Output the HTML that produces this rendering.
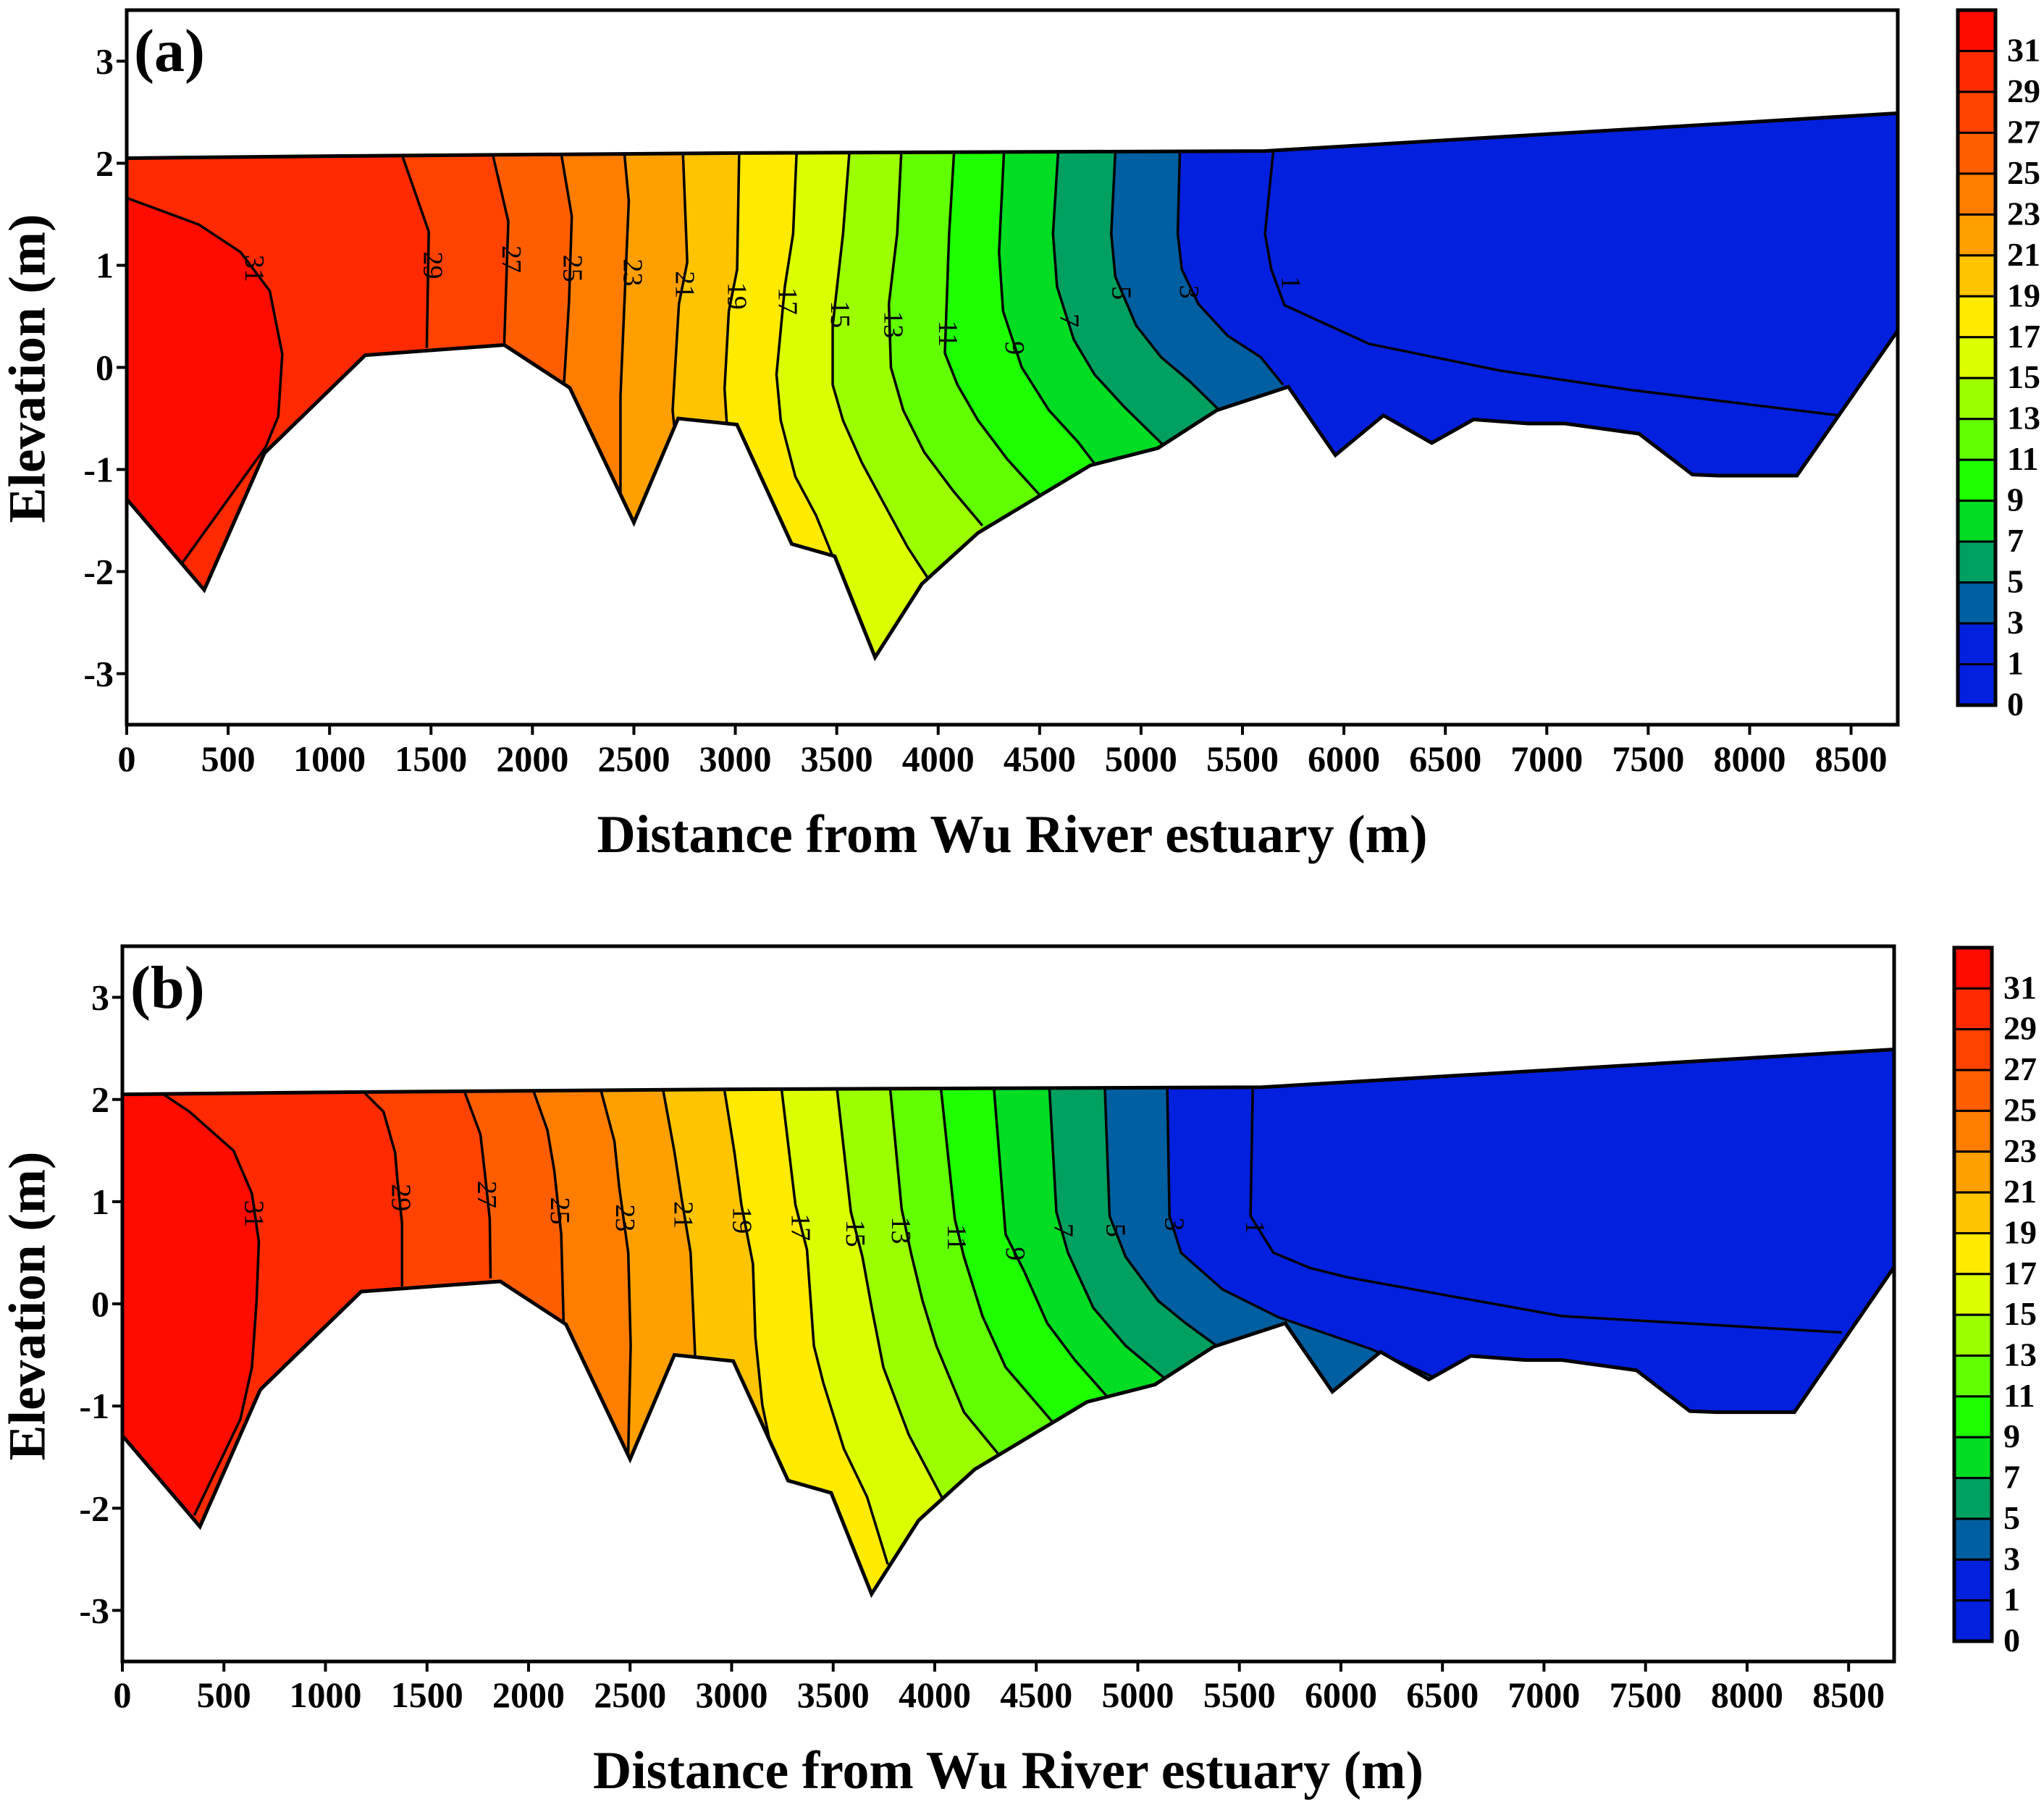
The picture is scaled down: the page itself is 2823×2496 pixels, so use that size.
<!DOCTYPE html>
<html><head><meta charset="utf-8"><style>
html,body{margin:0;padding:0;background:#fff;overflow:hidden;width:2823px;height:2496px;}
svg{display:block;}
svg text{font-family:"Liberation Serif",serif;font-weight:bold;}
</style></head><body>
<svg id="fig" xmlns="http://www.w3.org/2000/svg" width="2823" height="2496" viewBox="0 0 2823 2496"></svg>
<script>
// ---- data ----
const levels = [1,3,5,7,9,11,13,15,17,19,21,23,25,27,29,31];
const bandColors = ['#0220dd','#0220dd','#005fa0','#00a060','#00dd22','#1eff00','#62ff00','#9cff00','#dcff00','#ffea00','#ffc400','#ffa000','#ff7e00','#ff5e00','#ff4200','#ff2a00','#ff0c00'];
const cbLabels = ['31','29','27','25','23','21','19','17','15','13','11','9','7','5','3','1','0'];
const xTicks = [0,500,1000,1500,2000,2500,3000,3500,4000,4500,5000,5500,6000,6500,7000,7500,8000,8500];
const yTicks = [-3,-2,-1,0,1,2,3];
const bedX = [0,382,679,1176,1861,2184,2500,2718,3008,3278,3490,3689,3920,4197,4750,5084,5373,5726,5958,6195,6433,6639,6909,7089,7455,7718,7847,8233,8730];
const bedZ = [-1.29,-2.18,-0.84,0.12,0.22,-0.2,-1.52,-0.5,-0.56,-1.73,-1.85,-2.84,-2.12,-1.62,-0.96,-0.79,-0.42,-0.19,-0.86,-0.47,-0.74,-0.51,-0.55,-0.55,-0.65,-1.05,-1.06,-1.06,0.36];
const topX = [0,1000,3000,5610,8730];
const topZ = [2.05,2.07,2.1,2.12,2.49];

const isoAx = [
 [5652,5611,5642,5707,6125,6767,7410,8438],
 [5191,5181,5201,5283,5427,5590,5700],
 [4873,4853,4873,4976,5099,5242,5386],
 [4591,4566,4586,4669,4771,4914,5109],
 [4324,4300,4320,4412,4546,4689,4781],
 [4078,4054,4033,4095,4197,4341,4505],
 [3818,3798,3757,3767,3828,3931,4074,4218],
 [3562,3531,3480,3480,3531,3623,3726,3849,3951],
 [3302,3285,3244,3203,3224,3296,3398,3480],
 [3019,3009,2968,2947,2958],
 [2742,2763,2722,2691,2700],
 [2453,2475,2448,2434,2434],
 [2143,2194,2180,2156],
 [1805,1881,1871,1861],
 [1361,1489,1483,1479],
 [0,355,561,705,767,747,685,272]];
const isoAz = [
 [2.12,1.31,0.96,0.61,0.23,-0.03,-0.22,-0.47],
 [2.1,1.31,0.96,0.62,0.31,0.10,-0.17],
 [2.1,1.31,0.89,0.41,0.10,-0.14,-0.42],
 [2.1,1.31,0.79,0.27,-0.07,-0.38,-0.76],
 [2.1,1.13,0.55,0,-0.42,-0.73,-0.97],
 [2.1,1.31,0.14,-0.17,-0.52,-0.90,-1.26],
 [2.1,1.31,0.62,0,-0.42,-0.83,-1.21,-1.55],
 [2.1,1.31,0.41,-0.17,-0.52,-0.93,-1.31,-1.76,-2.07],
 [2.1,1.31,0.79,-0.07,-0.52,-1.07,-1.45,-1.85],
 [2.1,0.96,0.55,-0.21,-0.55],
 [2.1,1.03,0.62,-0.42,-0.6],
 [2.1,1.63,0.38,-0.28,-1.24],
 [2.08,1.48,0.63,-0.15],
 [2.08,1.43,0.83,0.23],
 [2.06,1.33,0.63,0.19],
 [1.66,1.40,1.13,0.75,0.13,-0.48,-0.78,-1.92]];
const isoBx = [
 [5566,5555,5668,5850,6032,6528,7090,8468],
 [5145,5156,5213,5418,5691,6146,6460],
 [4838,4861,4940,5100,5236,5395],
 [4565,4599,4656,4781,4940,5145],
 [4292,4349,4440,4554,4690,4872],
 [4031,4099,4144,4235,4349,4599],
 [3781,3837,3883,3940,4008,4144,4326],
 [3519,3587,3644,3690,3747,3872,4042],
 [3246,3314,3371,3405,3451,3553,3667,3769],
 [2964,3014,3048,3105,3117,3151,3196],
 [2662,2719,2753,2798,2821],
 [2355,2423,2446,2491,2503,2490],
 [2025,2093,2127,2161,2173],
 [1684,1763,1786,1809,1813],
 [1195,1286,1343,1354,1377,1377],
 [195,331,547,638,672,661,638,581,354]];
const isoBz = [
 [2.11,0.86,0.5,0.35,0.26,0.08,-0.12,-0.28],
 [2.1,0.86,0.5,0.14,-0.13,-0.44,-0.72],
 [2.1,0.86,0.46,0.03,-0.19,-0.42],
 [2.1,0.90,0.5,-0.04,-0.41,-0.75],
 [2.1,0.68,0.32,-0.19,-0.55,-0.96],
 [2.1,0.83,0.46,-0.12,-0.62,-1.2],
 [2.1,0.93,0.5,0.03,-0.41,-1.06,-1.5],
 [2.1,0.90,0.46,-0.04,-0.62,-1.28,-1.92],
 [2.1,0.97,0.53,-0.41,-0.77,-1.42,-1.89,-2.55],
 [2.1,1.48,0.97,0.39,-0.33,-0.99,-1.42],
 [2.1,1.48,1.04,0.5,-0.55],
 [2.1,1.59,1.15,0.5,-0.41,-1.52],
 [2.08,1.70,1.30,0.68,-0.21],
 [2.08,1.66,1.26,0.83,0.25],
 [2.06,1.88,1.48,1.22,0.79,0.17],
 [2.06,1.88,1.50,1.08,0.61,0.03,-0.62,-1.13,-2.07]];
const labAx = [5726,5225,4891,4634,4364,4036,3766,3503,3245,2995,2738,2481,2185,1883,1497,617];
const labAz = [0.83,0.74,0.73,0.46,0.19,0.33,0.42,0.52,0.65,0.70,0.81,0.93,0.97,1.06,1.0,0.97];
const labBx = [5564,5167,4878,4622,4385,4096,3821,3596,3327,3038,2750,2462,2141,1782,1359,635];
const labBz = [0.75,0.78,0.72,0.72,0.49,0.65,0.72,0.69,0.75,0.82,0.87,0.84,0.91,1.07,1.04,0.88];

const panels = [
 {id:'a', L:175, R:2621, T:14, B:1001, xmax:8730, isoX:isoAx, isoZ:isoAz, labX:labAx, labZ:labAz,
  cb:{x:2704,y:14,w:52,h:960}, tickY:1065, titleY:1177, ytitleY:509, tag:'(a)', tagX:185, tagY:98},
 {id:'b', L:169, R:2616, T:1307, B:2295, xmax:8724, isoX:isoBx, isoZ:isoBz, labX:labBx, labZ:labBz,
  cb:{x:2699,y:1309,w:52,h:958}, tickY:2358, titleY:2470, ytitleY:1804, tag:'(b)', tagX:180, tagY:1392}
];

const NS='http://www.w3.org/2000/svg';
const svg=document.getElementById('fig');
function mk(tag,attrs,parent){const e=document.createElementNS(NS,tag);for(const k in attrs)e.setAttribute(k,attrs[k]);(parent||svg).appendChild(e);return e;}

panels.forEach((p)=>{
  const sx=v=>p.L+(v/p.xmax)*(p.R-p.L);
  const sz=v=>p.T+((3.5-v)/7)*(p.B-p.T);
  const g=mk('g',{});
  
  
  let secPts=[];
  for(let i=0;i<topX.length;i++){const x=Math.min(topX[i],p.xmax);secPts.push(sx(x)+','+sz(topZ[i]));}
  for(let i=bedX.length-1;i>=0;i--){const x=Math.min(bedX[i],p.xmax);secPts.push(sx(x)+','+sz(bedZ[i]));}
  const defs=mk('defs',{},g);
  const cp=mk('clipPath',{id:'clip-'+p.id},defs);
  mk('polygon',{points:secPts.join(' ')},cp);
  const fillG=mk('g',{'clip-path':'url(#clip-'+p.id+')'},g);
  
  
  const base=mk('rect',{x:p.L,y:p.T,width:p.R-p.L,height:p.B-p.T,fill:bandColors[0]},fillG);
  
  
  levels.forEach((lv,i)=>{
    const xs=p.isoX[i], zs=p.isoZ[i];
    let pts=xs.map((x,j)=>sx(x)+','+sz(zs[j]));
    pts.push(sx(xs[xs.length-1])+','+(p.B+100));
    pts.push((p.L-100)+','+(p.B+100));
    pts.push((p.L-100)+','+(p.T-10));
    pts.push(sx(xs[0])+','+(p.T-10));
    const band=mk('polygon',{points:pts.join(' '),fill:bandColors[i+1]},fillG);
    
    
  });
  levels.forEach((lv,i)=>{
    const xs=p.isoX[i], zs=p.isoZ[i];
    const line=mk('polyline',{points:xs.map((x,j)=>sx(x)+','+sz(zs[j])).join(' '),fill:'none',stroke:'#000','stroke-width':3.5,'stroke-linejoin':'round'},fillG);
    
    
    const lx=sx(p.labX[i]), ly=sz(p.labZ[i]);
    const t=mk('text',{x:lx,y:ly,'font-size':38,'text-anchor':'middle','dominant-baseline':'middle',transform:'rotate(90 '+lx+' '+ly+')',style:'font-weight:normal'},fillG);
    t.textContent=String(lv);
    
    
  });
  const outline=mk('polygon',{points:secPts.join(' '),fill:'none',stroke:'#000','stroke-width':5},g);
  
  
  const frame=mk('rect',{x:p.L,y:p.T,width:p.R-p.L,height:p.B-p.T,fill:'none',stroke:'#000','stroke-width':5},g);
  
  
  xTicks.forEach(v=>{
    const x=sx(v);
    const tk=mk('line',{x1:x,y1:p.B,x2:x,y2:p.B+14,stroke:'#000','stroke-width':4},g);
    
    
    const t=mk('text',{x:x,y:p.tickY,'font-size':50,'text-anchor':'middle'},g);
    t.textContent=String(v);
    
    
  });
  yTicks.forEach(v=>{
    const y=sz(v);
    const tk=mk('line',{x1:p.L-14,y1:y,x2:p.L,y2:y,stroke:'#000','stroke-width':4},g);
    
    
    const t=mk('text',{x:p.L-18,y:y+17,'font-size':50,'text-anchor':'end'},g);
    t.textContent=String(v);
    
    
  });
  const xt=mk('text',{x:(p.L+p.R)/2,y:p.titleY,'font-size':74,'text-anchor':'middle',textLength:1147,lengthAdjust:'spacingAndGlyphs'},g);
  xt.textContent='Distance from Wu River estuary (m)';
  
  
  const yt=mk('text',{x:45,y:p.ytitleY,'font-size':72,'text-anchor':'middle','dominant-baseline':'middle',transform:'rotate(-90 45 '+p.ytitleY+')',textLength:427,lengthAdjust:'spacingAndGlyphs'},g);
  yt.textContent='Elevation (m)';
  
  
  const tag=mk('text',{x:p.tagX,y:p.tagY,'font-size':84},g);
  tag.textContent=p.tag;
  
  
  const cbG=mk('g',{},g);
  
  
  const n=bandColors.length, bh=p.cb.h/n;
  for(let k=0;k<n;k++){
    const r=mk('rect',{x:p.cb.x,y:p.cb.y+k*bh,width:p.cb.w,height:bh,fill:bandColors[n-1-k],stroke:'#000','stroke-width':3},cbG);
    
    
  }
  const cbf=mk('rect',{x:p.cb.x,y:p.cb.y,width:p.cb.w,height:p.cb.h,fill:'none',stroke:'#000','stroke-width':5},cbG);
  
  
  cbLabels.forEach((lab,k)=>{
    const y=p.cb.y+(k+1)*bh;
    const t=mk('text',{x:p.cb.x+p.cb.w+16,y:y+14,'font-size':46},cbG);
    t.textContent=lab;
    
    
  });
});
</script>
</body></html>
